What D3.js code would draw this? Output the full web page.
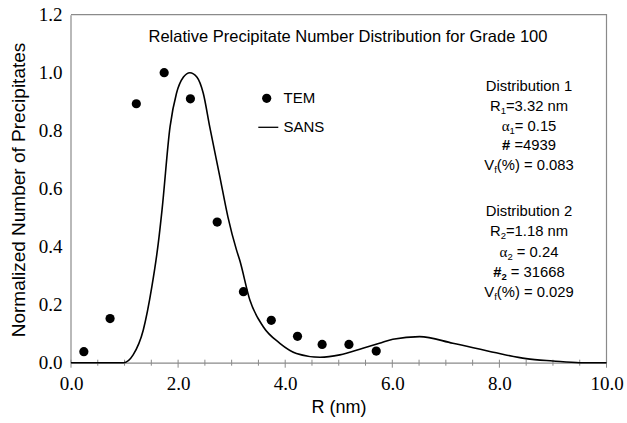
<!DOCTYPE html>
<html>
<head>
<meta charset="utf-8">
<script src="https://cdn.jsdelivr.net/npm/d3@7"></script>
<style>
  html, body { margin: 0; padding: 0; background: #fff; }
  svg { display: block; }
</style>
</head>
<body>
<svg id="chart" width="627" height="423"></svg>
<script>
// ---- Data ----
const temR   = [0.24, 0.73, 1.22, 1.74, 2.23, 2.73, 3.22, 3.74, 4.23, 4.69, 5.19, 5.70];
const temVal = [0.038, 0.152, 0.893, 1.0, 0.91, 0.485, 0.245, 0.146, 0.091, 0.063, 0.063, 0.040];

const sansR   = [0, 0.5, 0.98, 1.16, 1.35, 1.51, 1.63, 1.70, 1.85, 1.97, 2.10, 2.22, 2.35, 2.47, 2.59, 2.78, 2.93, 3.09, 3.15, 3.34, 3.59, 3.90, 4.21, 4.65, 5.02, 5.45, 5.76, 6.01, 6.51, 7.13, 7.94, 8.50, 9.0, 9.5, 10.0];
const sansVal = [0, 0, 0, 0.027, 0.113, 0.262, 0.412, 0.527, 0.814, 0.929, 0.985, 1.0, 0.985, 0.929, 0.814, 0.641, 0.503, 0.389, 0.354, 0.216, 0.124, 0.067, 0.032, 0.019, 0.027, 0.05, 0.067, 0.081, 0.09, 0.067, 0.034, 0.014, 0.006, 0, 0];

const xTicks = [0, 2, 4, 6, 8, 10];
const xMinorTicks = d3.range(0, 10.01, 0.5);
const yTicks = [0, 0.2, 0.4, 0.6, 0.8, 1.0, 1.2];

const titleText = "Relative Precipitate Number Distribution for Grade 100";
const xTitle = "R (nm)";
const yTitle = "Normalized Number of Precipitates";
const legendLabels = ["TEM", "SANS"];

// ---- Layout ----
const svg = d3.select("#chart");
const x = d3.scaleLinear().domain([0, 10]).range([71, 606.5]);
const y = d3.scaleLinear().domain([0, 1.2]).range([362.7, 14.7]);
const axisGray = "#8a8a8a";
const ink = "#000";

// frame (top & right)
svg.append("path")
  .attr("d", `M${x(0)},${y(1.2)}H${x(10)}V${y(0)}`)
  .attr("fill", "none").attr("stroke", axisGray).attr("stroke-width", 1.2);

// y axis
const yAxis = d3.axisLeft(y).tickValues(yTicks).tickSize(0).tickFormat(d3.format(".1f"));
const gy = svg.append("g").attr("transform", `translate(${x(0) - 0.5},0)`).call(yAxis);
gy.select(".domain").attr("stroke", axisGray).attr("stroke-width", 1.2);
gy.selectAll("text")
  .attr("x", -8)
  .attr("font-family", "'Liberation Serif', 'Times New Roman', serif")
  .attr("font-size", 19).attr("fill", ink);

// x axis
const xAxis = d3.axisBottom(x).tickValues(xTicks).tickSize(0).tickFormat(d3.format(".1f"));
const gx = svg.append("g").attr("transform", `translate(0,${y(0)})`).call(xAxis);
gx.select(".domain").attr("stroke", axisGray).attr("stroke-width", 1.2);
gx.selectAll("text")
  .attr("y", 14).attr("dy", "0.71em")
  .attr("font-family", "'Liberation Serif', 'Times New Roman', serif")
  .attr("font-size", 19).attr("fill", ink);
// tick marks
svg.append("g").selectAll("line").data(xMinorTicks).join("line")
  .attr("x1", d => x(d)).attr("x2", d => x(d))
  .attr("y1", d => y(0) - 3)
  .attr("y2", d => y(0) + (d % 2 === 0 ? 5 : 3))
  .attr("stroke", axisGray).attr("stroke-width", 1);

// SANS curve
const line = d3.line()
  .x((d, i) => x(sansR[i]))
  .y((d, i) => y(sansVal[i]))
  .curve(d3.curveMonotoneX);
svg.append("path")
  .datum(sansR)
  .attr("d", line)
  .attr("fill", "none").attr("stroke", "#000").attr("stroke-width", 1.6);

// TEM points
svg.append("g").selectAll("circle").data(temR).join("circle")
  .attr("cx", (d, i) => x(temR[i]))
  .attr("cy", (d, i) => y(temVal[i]))
  .attr("r", 4.6).attr("fill", "#000");

// title
svg.append("text")
  .attr("x", 348).attr("y", 41.7)
  .attr("text-anchor", "middle")
  .attr("font-family", "'Liberation Sans', Arial, sans-serif")
  .attr("font-size", 16.5).attr("fill", ink)
  .text(titleText);

// axis titles
svg.append("text")
  .attr("x", 339).attr("y", 413)
  .attr("text-anchor", "middle")
  .attr("font-family", "'Liberation Sans', Arial, sans-serif")
  .attr("font-size", 18).attr("fill", ink)
  .text(xTitle);
svg.append("text")
  .attr("transform", "translate(25,190) rotate(-90)")
  .attr("text-anchor", "middle")
  .attr("font-family", "'Liberation Sans', Arial, sans-serif")
  .attr("font-size", 19).attr("fill", ink)
  .text(yTitle);

// legend
const lg = svg.append("g")
  .attr("font-family", "'Liberation Sans', Arial, sans-serif")
  .attr("font-size", 15).attr("fill", ink);
lg.append("circle").attr("cx", 266.7).attr("cy", 98.3).attr("r", 4.6).attr("fill", "#000");
lg.append("text").attr("x", 283.5).attr("y", 103).text(legendLabels[0]);
lg.append("line").attr("x1", 258.3).attr("x2", 278.3).attr("y1", 127.3).attr("y2", 127.3)
  .attr("stroke", "#000").attr("stroke-width", 1.3);
lg.append("text").attr("x", 283.5).attr("y", 132).text(legendLabels[1]);

// annotations
const ann = svg.append("g")
  .attr("font-family", "'Liberation Sans', Arial, sans-serif")
  .attr("font-size", 14.8).attr("fill", ink)
  .attr("text-anchor", "middle");

function addLine(yPos, parts) {
  const t = ann.append("text").attr("x", 529).attr("y", yPos);
  parts.forEach(p => {
    const ts = t.append("tspan").text(p.t);
    if (p.sub) ts.attr("font-size", 9.5).attr("dy", 3);
    if (p.up) ts.attr("dy", -3);
    if (p.bold) ts.attr("font-weight", "bold");
    if (p.serif) ts.attr("font-family", "'Liberation Serif', 'Times New Roman', serif").attr("font-size", 15);
  });
}

addLine(90.7, [{t: "Distribution 1"}]);
addLine(110.5, [{t: "R"}, {t: "1", sub: true}, {t: "=3.32 nm", up: true}]);
addLine(130.5, [{t: "α", serif: true}, {t: "1", sub: true}, {t: "= 0.15", up: true}]);
addLine(150.3, [{t: "#", bold: true}, {t: " =4939"}]);
addLine(170.2, [{t: "V"}, {t: "f", sub: true}, {t: "(%) = 0.083", up: true}]);

addLine(215.7, [{t: "Distribution 2"}]);
addLine(235.8, [{t: "R"}, {t: "2", sub: true}, {t: "=1.18 nm", up: true}]);
addLine(256.5, [{t: "α", serif: true}, {t: "2", sub: true}, {t: " = 0.24", up: true}]);
addLine(276.7, [{t: "#", bold: true}, {t: "2", sub: true, bold: true}, {t: " = 31668", up: true}]);
addLine(296.8, [{t: "V"}, {t: "f", sub: true}, {t: "(%) = 0.029", up: true}]);
</script>
</body>
</html>
